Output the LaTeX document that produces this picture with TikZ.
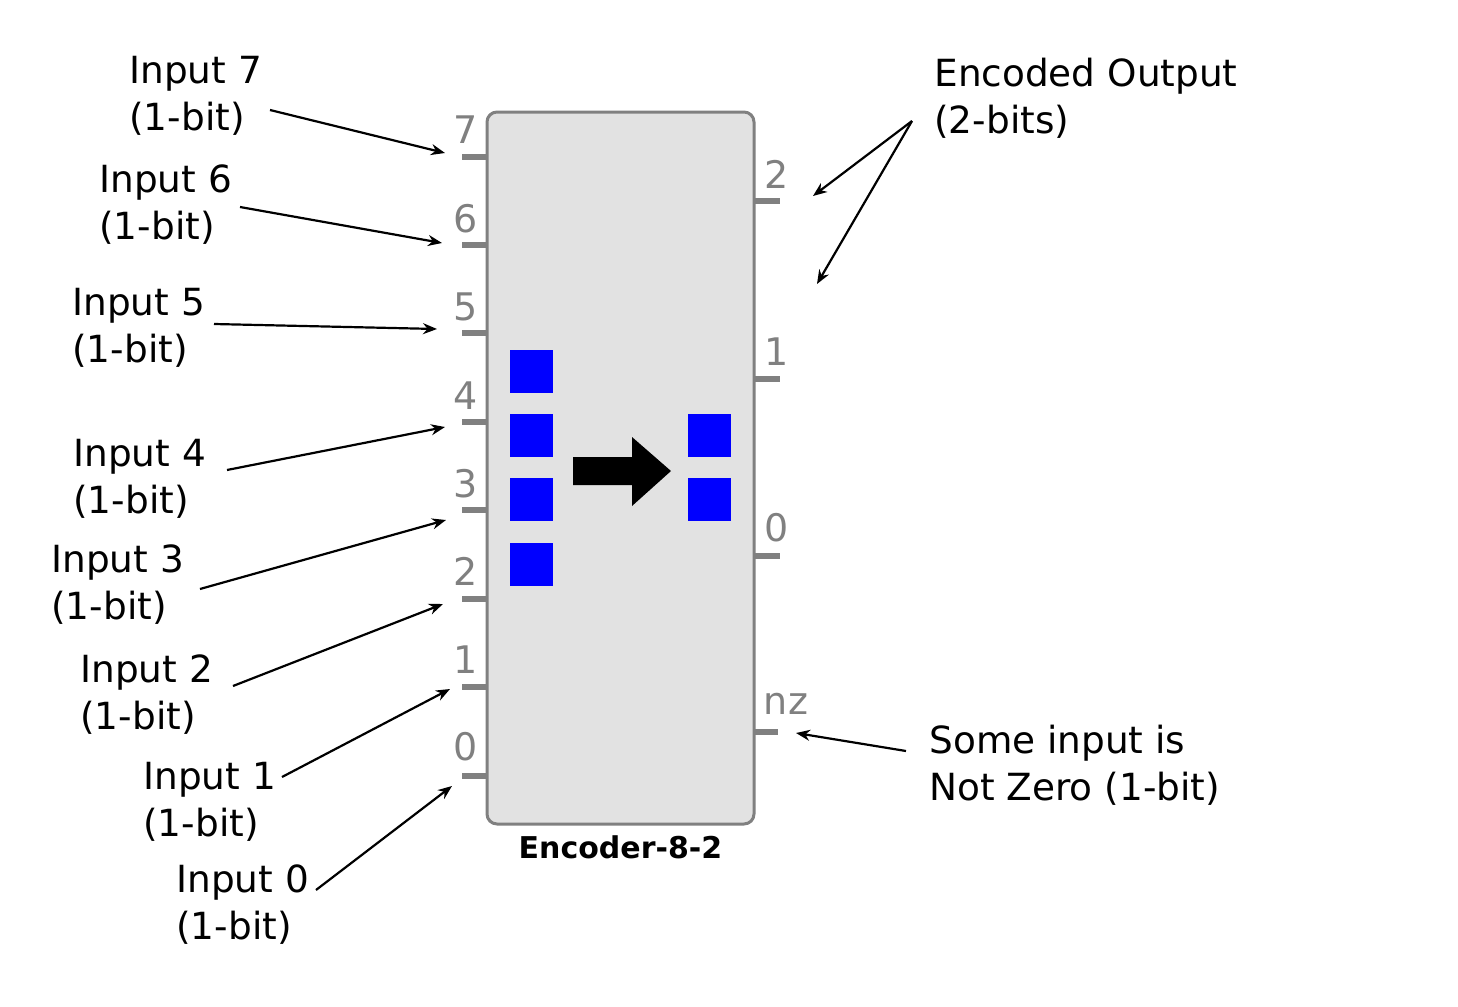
\documentclass[tikz,border=0pt]{standalone}
\usepackage{fontspec}
\setmainfont{DejaVu Sans}
\usetikzlibrary{arrows.meta, positioning}

\definecolor{boxgray}{HTML}{E2E2E2}
\definecolor{pingray}{HTML}{808080}

\tikzset{
    lbl/.style={anchor=west, align=left, inner sep=0pt, font=\fontsize{18.7}{23.5}\selectfont},
    pinlbl/.style={inner sep=0pt, text=pingray, font=\fontsize{19}{20}\selectfont},
    stub/.style={pingray, line width=2.6pt},
    sig/.style={-{Stealth[length=7pt, width=5.5pt]}, line width=1.1pt},
    bit/.style={fill=blue}
}

\begin{document}
\begin{tikzpicture}[x=0.5pt, y=-0.5pt]
    \useasboundingbox (0,0) rectangle (1458,1007);

    % Draw the encoder box
    \node (enc) [draw=pingray, fill=boxgray, line width=1.5pt, rounded corners=5pt,
        minimum width=133.5pt, minimum height=356pt, inner sep=0pt] at (620.5,468) {};
    \node (name) [below=5pt of enc, inner sep=0pt, font=\bfseries\fontsize{15}{18}\selectfont] {Encoder-8-2};

    % Draw the input pins
    \draw[stub] (462,157) -- (487,157);
    \draw[stub] (462,245) -- (487,245);
    \draw[stub] (462,333) -- (487,333);
    \draw[stub] (462,422) -- (487,422);
    \draw[stub] (462,510) -- (487,510);
    \draw[stub] (462,599) -- (487,599);
    \draw[stub] (462,687) -- (487,687);
    \draw[stub] (462,776) -- (487,776);
    \node[pinlbl] (n7) at (466,130) {7};
    \node[pinlbl] (n6) at (466,219) {6};
    \node[pinlbl] (n5) at (466,307) {5};
    \node[pinlbl] (n4) at (466,396) {4};
    \node[pinlbl] (n3) at (466,484) {3};
    \node[pinlbl] (n2) at (466,571) {2};
    \node[pinlbl] (n1) at (466,660) {1};
    \node[pinlbl] (n0) at (466,747) {0};

    % Draw the output pins
    \draw[stub] (754,201) -- (780,201);
    \draw[stub] (754,379) -- (780,379);
    \draw[stub] (754,556) -- (780,556);
    \draw[stub] (754,732) -- (778,732);
    \node[pinlbl] (o2) at (777,174) {2};
    \node[pinlbl] (o1) at (777,352) {1};
    \node[pinlbl] (o0) at (777,528) {0};
    \node[pinlbl] (onz) at (786,704) {nz};

    % Draw the bits and the big arrow
    \fill[bit] (510,350) rectangle +(43,43);
    \fill[bit] (510,414) rectangle +(43,43);
    \fill[bit] (510,478) rectangle +(43,43);
    \fill[bit] (510,543) rectangle +(43,43);
    \fill[bit] (688,414) rectangle +(43,43);
    \fill[bit] (688,478) rectangle +(43,43);
    \fill (573,457) -- (632,457) -- (632,437) -- (671,471) -- (632,506) -- (632,485) -- (573,485) -- cycle;

    % Draw the labels
    \node[lbl] (in7) at (129,95.5) {Input 7\\(1-bit)};
    \node[lbl] (in6) at (99,204.5) {Input 6\\(1-bit)};
    \node[lbl] (in5) at (72,327.5) {Input 5\\(1-bit)};
    \node[lbl] (in4) at (73,478.5) {Input 4\\(1-bit)};
    \node[lbl] (in3) at (51,584.5) {Input 3\\(1-bit)};
    \node[lbl] (in2) at (80,694.5) {Input 2\\(1-bit)};
    \node[lbl] (in1) at (143,801.5) {Input 1\\(1-bit)};
    \node[lbl] (in0) at (176,904.5) {Input 0\\(1-bit)};
    \node[lbl] (out) at (934,98.5) {Encoded Output\\(2-bits)};
    \node[lbl] (nzl) at (929,765.5) {Some input is\\Not Zero (1-bit)};

    % Arrow ends
    \coordinate (t7) at (270,110);  \coordinate (a7) at (445,153);
    \coordinate (t6) at (240,207);  \coordinate (a6) at (442,243);
    \coordinate (t5) at (214,324);  \coordinate (a5) at (437,329);
    \coordinate (t4) at (227,470);  \coordinate (a4) at (445,427);
    \coordinate (t3) at (200,589);  \coordinate (a3) at (446,520);
    \coordinate (t2) at (233,686);  \coordinate (a2) at (443,604);
    \coordinate (t1) at (282,777);  \coordinate (a1) at (450,689);
    \coordinate (t0) at (316,890);  \coordinate (a0) at (452,786);
    \coordinate (te) at (912,121);
    \coordinate (ae2) at (813,196); \coordinate (ae1) at (817,284);
    \coordinate (tz) at (906,751);  \coordinate (az) at (796,733);

    % Draw the arrows
    \draw[sig] (t7) -- (a7);
    \draw[sig] (t6) -- (a6);
    \draw[sig] (t5) -- (a5);
    \draw[sig] (t4) -- (a4);
    \draw[sig] (t3) -- (a3);
    \draw[sig] (t2) -- (a2);
    \draw[sig] (t1) -- (a1);
    \draw[sig] (t0) -- (a0);
    \draw[sig] (te) -- (ae2);
    \draw[sig] (te) -- (ae1);
    \draw[sig] (tz) -- (az);
\end{tikzpicture}
\end{document}
